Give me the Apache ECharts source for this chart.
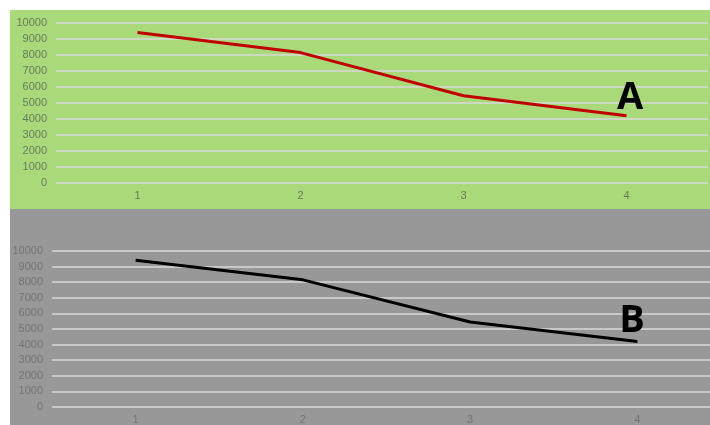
<!DOCTYPE html>
<html><head><meta charset="utf-8">
<script src="https://cdn.jsdelivr.net/npm/echarts@6/dist/echarts.min.js"></script>
<style>html,body{margin:0;padding:0;background:#fff;overflow:hidden;width:710px;height:425px}#c{width:730px;height:425px}</style>
</head><body><div id="c"></div>
<script>
const categories = ['1', '2', '3', '4'];
const seriesA = [9400, 8150, 5450, 4200];
const seriesB = [9400, 8150, 5450, 4200];
const yTicks = [0, 10000, 1000]; // min, max, interval

const chart = echarts.init(document.getElementById('c'), null, {renderer: 'canvas'});
const grid = '#d9d9d9';
function yAxis(i, col) {
  return {gridIndex: i, type: 'value', min: yTicks[0], max: yTicks[1], interval: yTicks[2],
    axisLine: {show: false}, axisTick: {show: false},
    axisLabel: {color: col, fontSize: 11, fontFamily: 'Liberation Sans, Arial', margin: 9,
      formatter: v => String(v)},
    splitLine: {lineStyle: {color: grid, width: 1.5}}};
}
function xAxis(i, col) {
  return {gridIndex: i, type: 'category', data: categories, boundaryGap: true,
    axisLine: {show: false}, axisTick: {show: false},
    axisLabel: {color: col, fontSize: 11, fontFamily: 'Liberation Sans, Arial', margin: 7}};
}
chart.setOption({
  animation: false,
  graphic: [
    {type: 'rect', z: -10, shape: {x: 10, y: 10, width: 700, height: 199}, style: {fill: '#a9d979'}},
    {type: 'rect', z: -10, shape: {x: 10, y: 209, width: 720, height: 216}, style: {fill: '#989898'}},
    {type: 'text', z: 100, x: 630, y: 98, style: {text: 'A', font: 'bold 38px "Open Sans", sans-serif', fill: '#000', align: 'center', verticalAlign: 'middle'}},
    {type: 'text', z: 100, x: 632, y: 321, style: {text: 'B', font: 'bold 38px "Open Sans", sans-serif', fill: '#000', align: 'center', verticalAlign: 'middle'}}
  ],
  grid: [
    {left: 56, top: 23, width: 652, height: 160},
    {left: 52, top: 251, width: 669, height: 156}
  ],
  xAxis: [xAxis(0, '#6b7a5e'), xAxis(1, '#747474')],
  yAxis: [yAxis(0, '#6b7a5e'), yAxis(1, '#747474')],
  series: [
    {type: 'line', xAxisIndex: 0, yAxisIndex: 0, data: seriesA, symbol: 'none',
     lineStyle: {color: '#c00000', width: 3}},
    {type: 'line', xAxisIndex: 1, yAxisIndex: 1, data: seriesB, symbol: 'none',
     lineStyle: {color: '#000000', width: 3}}
  ]
});
</script></body></html>
